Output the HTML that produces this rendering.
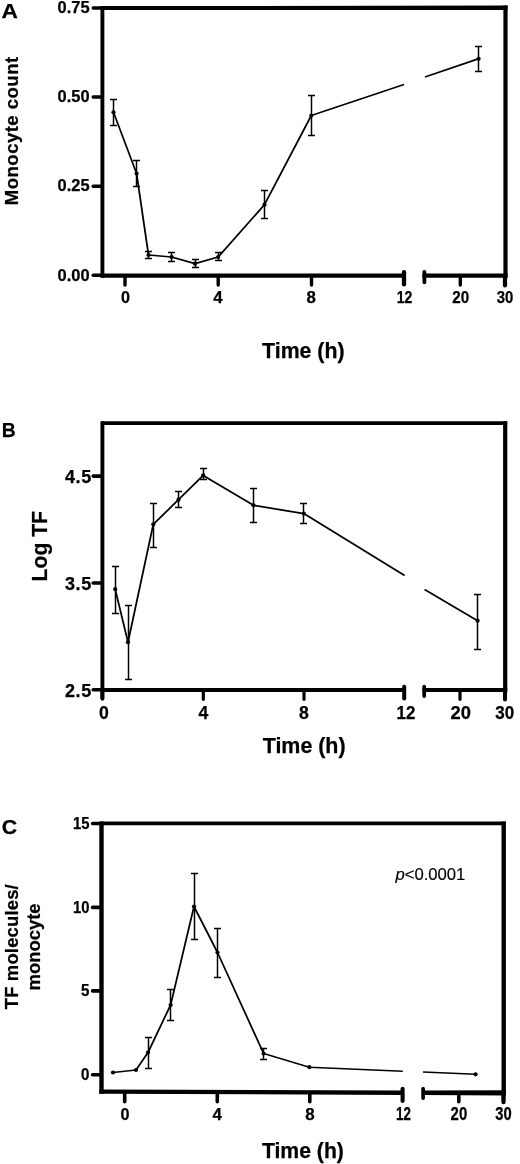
<!DOCTYPE html>
<html lang="en">
<head>
<meta charset="utf-8">
<title>Figure</title>
<style>
html,body{margin:0;padding:0;background:#fff;}
body{width:520px;height:1164px;overflow:hidden;}
svg{display:block;font-family:"Liberation Sans", Arial, Helvetica, sans-serif;fill:#000;}
text{stroke:#000;stroke-width:0.25px;stroke-linejoin:round;}
text.thin{stroke-width:0.15px;}
</style>
</head>
<body>
<svg width="520" height="1164" viewBox="0 0 520 1164">
<rect x="0" y="0" width="520" height="1164" fill="#fff"/>
<line x1="102.4" y1="6.6" x2="102.4" y2="277.7" stroke="#000" stroke-width="3.9" stroke-linecap="butt"/>
<polygon points="100.5,6.1 507.6,5.6 507.6,10.1 100.5,10.1" fill="#000"/>
<line x1="505.5" y1="5.6" x2="505.5" y2="277.7" stroke="#000" stroke-width="4.2" stroke-linecap="butt"/>
<line x1="100.9" y1="275.7" x2="405.5" y2="275.7" stroke="#000" stroke-width="4.3" stroke-linecap="butt"/>
<line x1="422.5" y1="275.7" x2="507.5" y2="275.7" stroke="#000" stroke-width="4.3" stroke-linecap="butt"/>
<line x1="404.0" y1="272.2" x2="404.0" y2="284.4" stroke="#000" stroke-width="4.3" stroke-linecap="round"/>
<line x1="424.4" y1="271.8" x2="424.4" y2="282.3" stroke="#000" stroke-width="3.8" stroke-linecap="round"/>
<line x1="93.2" y1="8.0" x2="101.5" y2="8.0" stroke="#000" stroke-width="3.4" stroke-linecap="round"/>
<line x1="93.2" y1="97.0" x2="101.5" y2="97.0" stroke="#000" stroke-width="3.4" stroke-linecap="round"/>
<line x1="93.2" y1="186.3" x2="101.5" y2="186.3" stroke="#000" stroke-width="3.4" stroke-linecap="round"/>
<line x1="93.2" y1="275.25" x2="101.5" y2="275.25" stroke="#000" stroke-width="3.4" stroke-linecap="round"/>
<line x1="125" y1="276" x2="125" y2="285" stroke="#000" stroke-width="3.4" stroke-linecap="round"/>
<line x1="218.2" y1="276" x2="218.2" y2="285" stroke="#000" stroke-width="3.4" stroke-linecap="round"/>
<line x1="311.5" y1="276" x2="311.5" y2="285" stroke="#000" stroke-width="3.4" stroke-linecap="round"/>
<line x1="460.3" y1="276" x2="460.3" y2="285" stroke="#000" stroke-width="3.4" stroke-linecap="round"/>
<line x1="505" y1="276" x2="505" y2="285.5" stroke="#000" stroke-width="4.2" stroke-linecap="round"/>
<text x="57.6" y="12.9" font-size="17.0" font-weight="bold" text-anchor="start" textLength="32" lengthAdjust="spacingAndGlyphs">0.75</text>
<text x="57.6" y="102.0" font-size="17.0" font-weight="bold" text-anchor="start" textLength="32" lengthAdjust="spacingAndGlyphs">0.50</text>
<text x="57.6" y="191.4" font-size="17.0" font-weight="bold" text-anchor="start" textLength="32" lengthAdjust="spacingAndGlyphs">0.25</text>
<text x="57.6" y="281.0" font-size="17.0" font-weight="bold" text-anchor="start" textLength="32" lengthAdjust="spacingAndGlyphs">0.00</text>
<text x="125.5" y="303.3" font-size="17.4" font-weight="bold" text-anchor="middle" textLength="9.0" lengthAdjust="spacingAndGlyphs">0</text>
<text x="217.9" y="303.3" font-size="17.4" font-weight="bold" text-anchor="middle" textLength="9.4" lengthAdjust="spacingAndGlyphs">4</text>
<text x="311.3" y="303.3" font-size="17.4" font-weight="bold" text-anchor="middle" textLength="9.4" lengthAdjust="spacingAndGlyphs">8</text>
<text x="396.8" y="303.3" font-size="17.2" font-weight="bold" text-anchor="start" textLength="15.6" lengthAdjust="spacingAndGlyphs">12</text>
<text x="452.2" y="303.3" font-size="17.2" font-weight="bold" text-anchor="start" textLength="16.9" lengthAdjust="spacingAndGlyphs">20</text>
<text x="496.8" y="303.3" font-size="17.2" font-weight="bold" text-anchor="start" textLength="16.6" lengthAdjust="spacingAndGlyphs">30</text>
<text x="262.1" y="357.8" font-size="21.8" font-weight="bold" text-anchor="start" textLength="82.4" lengthAdjust="spacingAndGlyphs">Time (h)</text>
<text x="1.4" y="18.3" font-size="19.9" font-weight="bold" text-anchor="start" textLength="16.4" lengthAdjust="spacingAndGlyphs">A</text>
<text transform="translate(17.6 131) rotate(-90)" font-size="18.6" font-weight="bold" text-anchor="middle" textLength="148.4" lengthAdjust="spacing">Monocyte count</text>
<polyline points="113.5,112.3 136.6,173.5 148.5,255 171.6,257 195,263.7 218.2,257 264.5,204.7 311.3,115.5 404,84.5" fill="none" stroke="#000" stroke-width="1.75" stroke-linejoin="round"/>
<polyline points="425,77 478.2,58.8" fill="none" stroke="#000" stroke-width="1.75" stroke-linejoin="round"/>
<line x1="113.5" y1="99.5" x2="113.5" y2="125.5" stroke="#000" stroke-width="1.5" stroke-linecap="butt"/>
<line x1="110.0" y1="99.5" x2="117.0" y2="99.5" stroke="#000" stroke-width="1.5" stroke-linecap="butt"/>
<line x1="110.0" y1="125.5" x2="117.0" y2="125.5" stroke="#000" stroke-width="1.5" stroke-linecap="butt"/>
<circle cx="113.5" cy="112.3" r="2.1" fill="#000"/>
<line x1="136.5" y1="160.5" x2="136.5" y2="186.5" stroke="#000" stroke-width="1.5" stroke-linecap="butt"/>
<line x1="133.0" y1="160.5" x2="140.0" y2="160.5" stroke="#000" stroke-width="1.5" stroke-linecap="butt"/>
<line x1="133.0" y1="186.5" x2="140.0" y2="186.5" stroke="#000" stroke-width="1.5" stroke-linecap="butt"/>
<circle cx="136.6" cy="173.5" r="2.1" fill="#000"/>
<line x1="148.5" y1="251.5" x2="148.5" y2="258.5" stroke="#000" stroke-width="1.5" stroke-linecap="butt"/>
<line x1="145.0" y1="251.5" x2="152.0" y2="251.5" stroke="#000" stroke-width="1.5" stroke-linecap="butt"/>
<line x1="145.0" y1="258.5" x2="152.0" y2="258.5" stroke="#000" stroke-width="1.5" stroke-linecap="butt"/>
<circle cx="148.5" cy="255" r="2.1" fill="#000"/>
<line x1="171.5" y1="252.5" x2="171.5" y2="261.5" stroke="#000" stroke-width="1.5" stroke-linecap="butt"/>
<line x1="168.0" y1="252.5" x2="175.0" y2="252.5" stroke="#000" stroke-width="1.5" stroke-linecap="butt"/>
<line x1="168.0" y1="261.5" x2="175.0" y2="261.5" stroke="#000" stroke-width="1.5" stroke-linecap="butt"/>
<circle cx="171.6" cy="257" r="2.1" fill="#000"/>
<line x1="195.5" y1="259.5" x2="195.5" y2="267.5" stroke="#000" stroke-width="1.5" stroke-linecap="butt"/>
<line x1="192.0" y1="259.5" x2="199.0" y2="259.5" stroke="#000" stroke-width="1.5" stroke-linecap="butt"/>
<line x1="192.0" y1="267.5" x2="199.0" y2="267.5" stroke="#000" stroke-width="1.5" stroke-linecap="butt"/>
<circle cx="195" cy="263.7" r="2.1" fill="#000"/>
<line x1="218.5" y1="252.5" x2="218.5" y2="260.5" stroke="#000" stroke-width="1.5" stroke-linecap="butt"/>
<line x1="215.0" y1="252.5" x2="222.0" y2="252.5" stroke="#000" stroke-width="1.5" stroke-linecap="butt"/>
<line x1="215.0" y1="260.5" x2="222.0" y2="260.5" stroke="#000" stroke-width="1.5" stroke-linecap="butt"/>
<circle cx="218.2" cy="257" r="2.1" fill="#000"/>
<line x1="264.5" y1="190.5" x2="264.5" y2="218.5" stroke="#000" stroke-width="1.5" stroke-linecap="butt"/>
<line x1="261.0" y1="190.5" x2="268.0" y2="190.5" stroke="#000" stroke-width="1.5" stroke-linecap="butt"/>
<line x1="261.0" y1="218.5" x2="268.0" y2="218.5" stroke="#000" stroke-width="1.5" stroke-linecap="butt"/>
<circle cx="264.5" cy="204.7" r="2.1" fill="#000"/>
<line x1="311.5" y1="95.5" x2="311.5" y2="135.5" stroke="#000" stroke-width="1.5" stroke-linecap="butt"/>
<line x1="308.0" y1="95.5" x2="315.0" y2="95.5" stroke="#000" stroke-width="1.5" stroke-linecap="butt"/>
<line x1="308.0" y1="135.5" x2="315.0" y2="135.5" stroke="#000" stroke-width="1.5" stroke-linecap="butt"/>
<circle cx="311.3" cy="115.5" r="2.1" fill="#000"/>
<line x1="478.5" y1="46.5" x2="478.5" y2="71.5" stroke="#000" stroke-width="1.5" stroke-linecap="butt"/>
<line x1="475.0" y1="46.5" x2="482.0" y2="46.5" stroke="#000" stroke-width="1.5" stroke-linecap="butt"/>
<line x1="475.0" y1="71.5" x2="482.0" y2="71.5" stroke="#000" stroke-width="1.5" stroke-linecap="butt"/>
<circle cx="478.6" cy="58.8" r="2.1" fill="#000"/>
<line x1="102.4" y1="421.5" x2="102.4" y2="699" stroke="#000" stroke-width="3.9" stroke-linecap="butt"/>
<line x1="100.9" y1="423.1" x2="507.2" y2="423.1" stroke="#000" stroke-width="3.8" stroke-linecap="butt"/>
<line x1="505.2" y1="421.20000000000005" x2="505.2" y2="692.1" stroke="#000" stroke-width="4.2" stroke-linecap="butt"/>
<line x1="100.9" y1="690.1" x2="405.5" y2="690.1" stroke="#000" stroke-width="4.0" stroke-linecap="butt"/>
<line x1="422.5" y1="690.1" x2="507.2" y2="690.1" stroke="#000" stroke-width="4.0" stroke-linecap="butt"/>
<line x1="404.2" y1="686.8" x2="404.2" y2="698.4" stroke="#000" stroke-width="4.0" stroke-linecap="round"/>
<line x1="424.2" y1="686.7" x2="424.2" y2="696.1" stroke="#000" stroke-width="3.7" stroke-linecap="round"/>
<line x1="93.2" y1="476.1" x2="101.5" y2="476.1" stroke="#000" stroke-width="3.6" stroke-linecap="round"/>
<line x1="93.2" y1="583.0" x2="101.5" y2="583.0" stroke="#000" stroke-width="3.6" stroke-linecap="round"/>
<line x1="93.2" y1="689.8" x2="101.5" y2="689.8" stroke="#000" stroke-width="3.6" stroke-linecap="round"/>
<line x1="102.4" y1="690" x2="102.4" y2="699" stroke="#000" stroke-width="3.6" stroke-linecap="round"/>
<line x1="203.3" y1="690" x2="203.3" y2="699.3" stroke="#000" stroke-width="3.2" stroke-linecap="round"/>
<line x1="304" y1="690" x2="304" y2="699.3" stroke="#000" stroke-width="3.2" stroke-linecap="round"/>
<line x1="460" y1="690" x2="460" y2="699.3" stroke="#000" stroke-width="3.2" stroke-linecap="round"/>
<line x1="505" y1="690" x2="505" y2="699.5" stroke="#000" stroke-width="4.0" stroke-linecap="round"/>
<text x="65.0" y="482.5" font-size="18" font-weight="bold" text-anchor="start" textLength="26.2" lengthAdjust="spacing">4.5</text>
<text x="65.0" y="590.3" font-size="18" font-weight="bold" text-anchor="start" textLength="26.2" lengthAdjust="spacing">3.5</text>
<text x="65.0" y="696.6" font-size="18" font-weight="bold" text-anchor="start" textLength="26.2" lengthAdjust="spacing">2.5</text>
<text x="103.8" y="718.9" font-size="18.5" font-weight="bold" text-anchor="middle" textLength="9.8" lengthAdjust="spacingAndGlyphs">0</text>
<text x="203.5" y="718.9" font-size="18.5" font-weight="bold" text-anchor="middle" textLength="9.8" lengthAdjust="spacingAndGlyphs">4</text>
<text x="304" y="718.9" font-size="18.5" font-weight="bold" text-anchor="middle" textLength="9.8" lengthAdjust="spacingAndGlyphs">8</text>
<text x="396.6" y="718.9" font-size="18.5" font-weight="bold" text-anchor="start" textLength="18.8" lengthAdjust="spacingAndGlyphs">12</text>
<text x="450.6" y="718.9" font-size="18.5" font-weight="bold" text-anchor="start" textLength="20.4" lengthAdjust="spacingAndGlyphs">20</text>
<text x="495.2" y="718.9" font-size="18.5" font-weight="bold" text-anchor="start" textLength="18.9" lengthAdjust="spacingAndGlyphs">30</text>
<text x="262.7" y="753.2" font-size="22" font-weight="bold" text-anchor="start" textLength="82.9" lengthAdjust="spacingAndGlyphs">Time (h)</text>
<text x="1.8" y="437" font-size="20" font-weight="bold" text-anchor="start" textLength="14" lengthAdjust="spacingAndGlyphs">B</text>
<text transform="translate(47.4 546.2) rotate(-90)" font-size="22" font-weight="bold" text-anchor="middle" textLength="70.4" lengthAdjust="spacingAndGlyphs">Log TF</text>
<polyline points="115.2,589.2 128,642.2 153.3,524.3 178.5,499.7 203.2,475.4 253.5,505.3 303.8,513.6 404.6,575.5" fill="none" stroke="#000" stroke-width="1.75" stroke-linejoin="round"/>
<polyline points="424.6,589.5 477.6,620.7" fill="none" stroke="#000" stroke-width="1.75" stroke-linejoin="round"/>
<line x1="115.5" y1="566.5" x2="115.5" y2="613.5" stroke="#000" stroke-width="1.5" stroke-linecap="butt"/>
<line x1="112.0" y1="566.5" x2="119.0" y2="566.5" stroke="#000" stroke-width="1.5" stroke-linecap="butt"/>
<line x1="112.0" y1="613.5" x2="119.0" y2="613.5" stroke="#000" stroke-width="1.5" stroke-linecap="butt"/>
<circle cx="115.2" cy="589.2" r="2.1" fill="#000"/>
<line x1="128.5" y1="605.5" x2="128.5" y2="679.5" stroke="#000" stroke-width="1.5" stroke-linecap="butt"/>
<line x1="125.0" y1="605.5" x2="132.0" y2="605.5" stroke="#000" stroke-width="1.5" stroke-linecap="butt"/>
<line x1="125.0" y1="679.5" x2="132.0" y2="679.5" stroke="#000" stroke-width="1.5" stroke-linecap="butt"/>
<circle cx="128" cy="642.2" r="2.1" fill="#000"/>
<line x1="153.5" y1="503.5" x2="153.5" y2="547.5" stroke="#000" stroke-width="1.5" stroke-linecap="butt"/>
<line x1="150.0" y1="503.5" x2="157.0" y2="503.5" stroke="#000" stroke-width="1.5" stroke-linecap="butt"/>
<line x1="150.0" y1="547.5" x2="157.0" y2="547.5" stroke="#000" stroke-width="1.5" stroke-linecap="butt"/>
<circle cx="153.3" cy="524.3" r="2.1" fill="#000"/>
<line x1="178.5" y1="491.5" x2="178.5" y2="507.5" stroke="#000" stroke-width="1.5" stroke-linecap="butt"/>
<line x1="175.0" y1="491.5" x2="182.0" y2="491.5" stroke="#000" stroke-width="1.5" stroke-linecap="butt"/>
<line x1="175.0" y1="507.5" x2="182.0" y2="507.5" stroke="#000" stroke-width="1.5" stroke-linecap="butt"/>
<circle cx="178.5" cy="499.7" r="2.1" fill="#000"/>
<line x1="203.5" y1="468.5" x2="203.5" y2="479.5" stroke="#000" stroke-width="1.5" stroke-linecap="butt"/>
<line x1="200.0" y1="468.5" x2="207.0" y2="468.5" stroke="#000" stroke-width="1.5" stroke-linecap="butt"/>
<line x1="200.0" y1="479.5" x2="207.0" y2="479.5" stroke="#000" stroke-width="1.5" stroke-linecap="butt"/>
<circle cx="203.2" cy="475.4" r="2.1" fill="#000"/>
<line x1="253.5" y1="488.5" x2="253.5" y2="522.5" stroke="#000" stroke-width="1.5" stroke-linecap="butt"/>
<line x1="250.0" y1="488.5" x2="257.0" y2="488.5" stroke="#000" stroke-width="1.5" stroke-linecap="butt"/>
<line x1="250.0" y1="522.5" x2="257.0" y2="522.5" stroke="#000" stroke-width="1.5" stroke-linecap="butt"/>
<circle cx="253.5" cy="505.3" r="2.1" fill="#000"/>
<line x1="303.5" y1="503.5" x2="303.5" y2="523.5" stroke="#000" stroke-width="1.5" stroke-linecap="butt"/>
<line x1="300.0" y1="503.5" x2="307.0" y2="503.5" stroke="#000" stroke-width="1.5" stroke-linecap="butt"/>
<line x1="300.0" y1="523.5" x2="307.0" y2="523.5" stroke="#000" stroke-width="1.5" stroke-linecap="butt"/>
<circle cx="303.8" cy="513.6" r="2.1" fill="#000"/>
<line x1="477.5" y1="594.5" x2="477.5" y2="649.5" stroke="#000" stroke-width="1.5" stroke-linecap="butt"/>
<line x1="474.0" y1="594.5" x2="481.0" y2="594.5" stroke="#000" stroke-width="1.5" stroke-linecap="butt"/>
<line x1="474.0" y1="649.5" x2="481.0" y2="649.5" stroke="#000" stroke-width="1.5" stroke-linecap="butt"/>
<circle cx="477.6" cy="620.7" r="2.1" fill="#000"/>
<line x1="101.5" y1="821.5" x2="101.5" y2="1093.8" stroke="#000" stroke-width="4.4" stroke-linecap="butt"/>
<line x1="100.0" y1="823.3" x2="505.7" y2="823.3" stroke="#000" stroke-width="3.8" stroke-linecap="butt"/>
<line x1="503.7" y1="821.5" x2="503.7" y2="1093.8" stroke="#000" stroke-width="4.4" stroke-linecap="butt"/>
<polygon points="99.3,1089.5 403.5,1090.5 403.5,1094.9 99.3,1093.7" fill="#000"/>
<polygon points="422,1090.5 506,1090.3 506,1095.5 422,1094.9" fill="#000"/>
<line x1="402.6" y1="1088.8" x2="402.6" y2="1101.0" stroke="#000" stroke-width="4.1" stroke-linecap="round"/>
<line x1="423.1" y1="1088.7" x2="423.1" y2="1098.1" stroke="#000" stroke-width="3.7" stroke-linecap="round"/>
<line x1="92.6" y1="823.5" x2="100" y2="823.5" stroke="#000" stroke-width="3.6" stroke-linecap="round"/>
<line x1="92.6" y1="907.4" x2="100" y2="907.4" stroke="#000" stroke-width="3.6" stroke-linecap="round"/>
<line x1="92.6" y1="990.9" x2="100" y2="990.9" stroke="#000" stroke-width="3.6" stroke-linecap="round"/>
<line x1="92.6" y1="1074.8" x2="100" y2="1074.8" stroke="#000" stroke-width="3.6" stroke-linecap="round"/>
<line x1="124.7" y1="1093" x2="124.7" y2="1101.7" stroke="#000" stroke-width="3.6" stroke-linecap="round"/>
<line x1="217.3" y1="1093" x2="217.3" y2="1101.7" stroke="#000" stroke-width="3.6" stroke-linecap="round"/>
<line x1="309.8" y1="1093" x2="309.8" y2="1101.7" stroke="#000" stroke-width="3.6" stroke-linecap="round"/>
<line x1="458.8" y1="1093" x2="458.8" y2="1101.7" stroke="#000" stroke-width="3.6" stroke-linecap="round"/>
<line x1="503.5" y1="1093" x2="503.5" y2="1102" stroke="#000" stroke-width="4.4" stroke-linecap="round"/>
<text x="73.0" y="828.7" font-size="16.9" font-weight="bold" text-anchor="start" textLength="16.5" lengthAdjust="spacingAndGlyphs">15</text>
<text x="73.0" y="912.6" font-size="16.9" font-weight="bold" text-anchor="start" textLength="16.5" lengthAdjust="spacingAndGlyphs">10</text>
<text x="80.9" y="996.2" font-size="16.9" font-weight="bold" text-anchor="start" textLength="8.4" lengthAdjust="spacingAndGlyphs">5</text>
<text x="80.9" y="1080.3" font-size="16.9" font-weight="bold" text-anchor="start" textLength="8.4" lengthAdjust="spacingAndGlyphs">0</text>
<text x="124.9" y="1119.6" font-size="17.4" font-weight="bold" text-anchor="middle" textLength="9.0" lengthAdjust="spacingAndGlyphs">0</text>
<text x="217.3" y="1119.6" font-size="17.4" font-weight="bold" text-anchor="middle" textLength="9.4" lengthAdjust="spacingAndGlyphs">4</text>
<text x="309.9" y="1119.6" font-size="17.4" font-weight="bold" text-anchor="middle" textLength="9.4" lengthAdjust="spacingAndGlyphs">8</text>
<text x="396.0" y="1119.6" font-size="17.6" font-weight="bold" text-anchor="start" textLength="14.9" lengthAdjust="spacingAndGlyphs">12</text>
<text x="450.6" y="1119.6" font-size="17.6" font-weight="bold" text-anchor="start" textLength="16.6" lengthAdjust="spacingAndGlyphs">20</text>
<text x="495.2" y="1119.6" font-size="17.6" font-weight="bold" text-anchor="start" textLength="16.4" lengthAdjust="spacingAndGlyphs">30</text>
<text x="261.9" y="1157.6" font-size="21.8" font-weight="bold" text-anchor="start" textLength="82" lengthAdjust="spacingAndGlyphs">Time (h)</text>
<text x="1.8" y="834" font-size="20.2" font-weight="bold" text-anchor="start" textLength="15.4" lengthAdjust="spacingAndGlyphs">C</text>
<text transform="translate(18.1 946.8) rotate(-90)" font-size="18.4" font-weight="bold" text-anchor="middle" textLength="125" lengthAdjust="spacing">TF molecules/</text>
<text transform="translate(40.1 946.9) rotate(-90)" font-size="18.4" font-weight="bold" text-anchor="middle" textLength="87" lengthAdjust="spacingAndGlyphs">monocyte</text>
<text x="395.4" y="880.2" font-size="16" class="thin" font-weight="normal" textLength="70" lengthAdjust="spacingAndGlyphs"><tspan font-style="italic">p</tspan>&lt;0.0001</text>
<polyline points="113,1072.5 136,1070 148,1052.5 170.6,1005 194,906.5 217.5,952.5 263.6,1053.5" fill="none" stroke="#000" stroke-width="1.75" stroke-linejoin="round"/>
<polyline points="263.6,1053.5 309.4,1067.2 402.8,1071.2" fill="none" stroke="#000" stroke-width="1.45" stroke-linejoin="round"/>
<polyline points="423,1072 475.6,1074.3" fill="none" stroke="#000" stroke-width="1.45" stroke-linejoin="round"/>
<circle cx="113" cy="1072.5" r="2.1" fill="#000"/>
<circle cx="136" cy="1070" r="2.1" fill="#000"/>
<line x1="148.5" y1="1037.5" x2="148.5" y2="1068.5" stroke="#000" stroke-width="1.5" stroke-linecap="butt"/>
<line x1="145.0" y1="1037.5" x2="152.0" y2="1037.5" stroke="#000" stroke-width="1.5" stroke-linecap="butt"/>
<line x1="145.0" y1="1068.5" x2="152.0" y2="1068.5" stroke="#000" stroke-width="1.5" stroke-linecap="butt"/>
<circle cx="148" cy="1052.5" r="2.1" fill="#000"/>
<line x1="170.5" y1="989.5" x2="170.5" y2="1020.5" stroke="#000" stroke-width="1.5" stroke-linecap="butt"/>
<line x1="167.0" y1="989.5" x2="174.0" y2="989.5" stroke="#000" stroke-width="1.5" stroke-linecap="butt"/>
<line x1="167.0" y1="1020.5" x2="174.0" y2="1020.5" stroke="#000" stroke-width="1.5" stroke-linecap="butt"/>
<circle cx="170.6" cy="1005" r="2.1" fill="#000"/>
<line x1="194.5" y1="873.5" x2="194.5" y2="939.5" stroke="#000" stroke-width="1.5" stroke-linecap="butt"/>
<line x1="191.0" y1="873.5" x2="198.0" y2="873.5" stroke="#000" stroke-width="1.5" stroke-linecap="butt"/>
<line x1="191.0" y1="939.5" x2="198.0" y2="939.5" stroke="#000" stroke-width="1.5" stroke-linecap="butt"/>
<circle cx="194" cy="906.5" r="2.1" fill="#000"/>
<line x1="217.5" y1="928.5" x2="217.5" y2="977.5" stroke="#000" stroke-width="1.5" stroke-linecap="butt"/>
<line x1="214.0" y1="928.5" x2="221.0" y2="928.5" stroke="#000" stroke-width="1.5" stroke-linecap="butt"/>
<line x1="214.0" y1="977.5" x2="221.0" y2="977.5" stroke="#000" stroke-width="1.5" stroke-linecap="butt"/>
<circle cx="217.5" cy="952.5" r="2.1" fill="#000"/>
<line x1="263.5" y1="1048.5" x2="263.5" y2="1059.5" stroke="#000" stroke-width="1.5" stroke-linecap="butt"/>
<line x1="260.0" y1="1048.5" x2="267.0" y2="1048.5" stroke="#000" stroke-width="1.5" stroke-linecap="butt"/>
<line x1="260.0" y1="1059.5" x2="267.0" y2="1059.5" stroke="#000" stroke-width="1.5" stroke-linecap="butt"/>
<circle cx="263.6" cy="1053.5" r="2.1" fill="#000"/>
<circle cx="309.4" cy="1067.2" r="2.1" fill="#000"/>
<circle cx="475.6" cy="1074.3" r="2.1" fill="#000"/>
</svg>
</body>
</html>
